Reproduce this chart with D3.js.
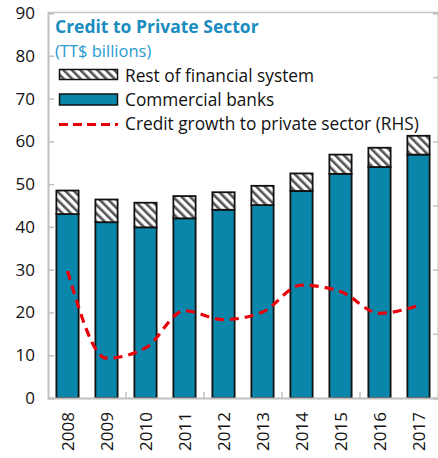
<!DOCTYPE html>
<html>
<head>
<meta charset="utf-8">
<script src="https://cdn.jsdelivr.net/npm/d3@7"></script>
<style>
  html, body { margin: 0; padding: 0; background: #fff; }
  svg { display: block; }
  text { font-family: "Open Sans", "Noto Sans", sans-serif; }
</style>
</head>
<body>
<svg id="chart" width="438" height="458"></svg>
<script>
const years = ["2008","2009","2010","2011","2012","2013","2014","2015","2016","2017"];
const commercialBanks = [43.0, 41.1, 39.9, 42.0, 44.0, 45.1, 48.4, 52.4, 54.0, 56.9];
const restOfSystem = [5.5, 5.3, 5.75, 5.2, 4.1, 4.5, 4.1, 4.5, 4.5, 4.4];
const creditGrowth = [4.9, -1.9, -1.1, 1.8, 1.1, 1.7, 3.8, 3.3, 1.6, 2.2];
const leftTicks = [0, 10, 20, 30, 40, 50, 60, 70, 80, 90];
const rightTicks = [-5, 0, 5, 10, 15, 20, 25];

const svg = d3.select("#chart");
const pL = 48, pR = 438, pT = 13, pB = 398;

const x = d3.scaleBand().domain(years).range([pL, pR]).paddingInner(0.43).paddingOuter(0.215);
const y = d3.scaleLinear().domain([0, 90]).range([pB, pT]);
const yR = d3.scaleLinear().domain([-5, 25]).range([pB, pT]);

// hatch pattern
const defs = svg.append("defs");
const pat = defs.append("pattern").attr("id", "hatch").attr("patternUnits", "userSpaceOnUse")
  .attr("width", 6).attr("height", 6).attr("patternTransform", "rotate(-45)");
pat.append("rect").attr("width", 6).attr("height", 6).attr("fill", "#fff");
pat.append("rect").attr("x", 0).attr("width", 2.6).attr("height", 6).attr("fill", "#555");

const teal = "#0A86AA";

// frame
svg.append("line").attr("x1", pL).attr("x2", pR).attr("y1", pT - 0.5).attr("y2", pT - 0.5)
  .attr("stroke", "#c8c8c8").attr("stroke-width", 1.5);

// left axis
const yAxis = d3.axisLeft(y).tickValues(leftTicks).tickSize(-6).tickPadding(13);
const gy = svg.append("g").attr("transform", `translate(${pL},0)`).call(yAxis);
gy.select(".domain").attr("stroke", "#c0c0c0").attr("stroke-width", 2);
gy.selectAll(".tick line").attr("stroke", "#c0c0c0").attr("stroke-width", 1.5);
gy.selectAll(".tick text").attr("font-size", 17).attr("fill", "#111");

// right axis ticks (labels outside the view)
const yAxisR = d3.axisRight(yR).tickValues(rightTicks).tickSize(-5).tickFormat("");
const gyR = svg.append("g").attr("transform", `translate(${pR},0)`).call(yAxisR);
gyR.select(".domain").attr("stroke", "#c0c0c0").attr("stroke-width", 2);
gyR.selectAll(".tick line").attr("stroke", "#c0c0c0").attr("stroke-width", 1.5);

// bars
const g = svg.append("g");
years.forEach((yr, i) => {
  const c = commercialBanks[i], r = restOfSystem[i];
  g.append("rect").attr("x", x(yr)).attr("width", x.bandwidth())
    .attr("y", y(c)).attr("height", y(0) - y(c))
    .attr("fill", teal).attr("stroke", "#111").attr("stroke-width", 1.8);
  g.append("rect").attr("x", x(yr)).attr("width", x.bandwidth())
    .attr("y", y(c + r)).attr("height", y(c) - y(c + r))
    .attr("fill", "url(#hatch)").attr("stroke", "#111").attr("stroke-width", 1.8);
});

// x axis
const xAxis = d3.axisBottom(x).tickSize(0).tickPadding(8);
const gx = svg.append("g").attr("transform", `translate(0,${pB})`).call(xAxis);
gx.select(".domain").attr("stroke", "#c0c0c0").attr("stroke-width", 2);
gx.selectAll(".tick text").attr("font-size", 17).attr("fill", "#111")
  .attr("transform", "rotate(-90)").attr("text-anchor", "end")
  .attr("x", -14).attr("y", 0).attr("dy", "0.36em");
// tick marks every two categories (inside)
const step = x.step();
for (let k = 2; k < years.length; k += 2) {
  const xt = pL + k * step;
  svg.append("line").attr("x1", xt).attr("x2", xt).attr("y1", pB).attr("y2", pB - 6)
    .attr("stroke", "#c0c0c0").attr("stroke-width", 1.5);
}

// credit growth line
const line = d3.line()
  .x((d, i) => x(years[i]) + x.bandwidth() / 2)
  .y(d => yR(d))
  .curve(d3.curveMonotoneX);
svg.append("path").datum(creditGrowth).attr("d", line)
  .attr("fill", "none").attr("stroke", "#E8000B").attr("stroke-width", 3.2)
  .attr("stroke-dasharray", "9,6");

// title
svg.append("text").attr("x", 55).attr("y", 33).attr("font-size", 17.5).attr("font-weight", 700)
  .attr("fill", "#1A8CC0").text("Credit to Private Sector");
svg.append("text").attr("x", 55).attr("y", 57).attr("font-size", 16.5)
  .attr("fill", "#2A9BD0").text("(TT$ billions)");

// legend
const lg = svg.append("g");
lg.append("rect").attr("x", 59.5).attr("y", 69.5).attr("width", 58).attr("height", 10)
  .attr("fill", "url(#hatch)").attr("stroke", "#111").attr("stroke-width", 1.5);
lg.append("text").attr("x", 125).attr("y", 82).attr("font-size", 17.3).attr("fill", "#111")
  .text("Rest of financial system");
lg.append("rect").attr("x", 59.5).attr("y", 94).attr("width", 58).attr("height", 11)
  .attr("fill", teal).attr("stroke", "#111").attr("stroke-width", 1.5);
lg.append("text").attr("x", 125).attr("y", 106).attr("font-size", 17.3).attr("fill", "#111")
  .text("Commercial banks");
lg.append("line").attr("x1", 59).attr("x2", 118).attr("y1", 124.5).attr("y2", 124.5)
  .attr("stroke", "#E8000B").attr("stroke-width", 3.2).attr("stroke-dasharray", "9,5");
lg.append("text").attr("x", 125).attr("y", 130).attr("font-size", 17.3).attr("fill", "#111")
  .text("Credit growth to private sector (RHS)");
</script>
</body>
</html>
